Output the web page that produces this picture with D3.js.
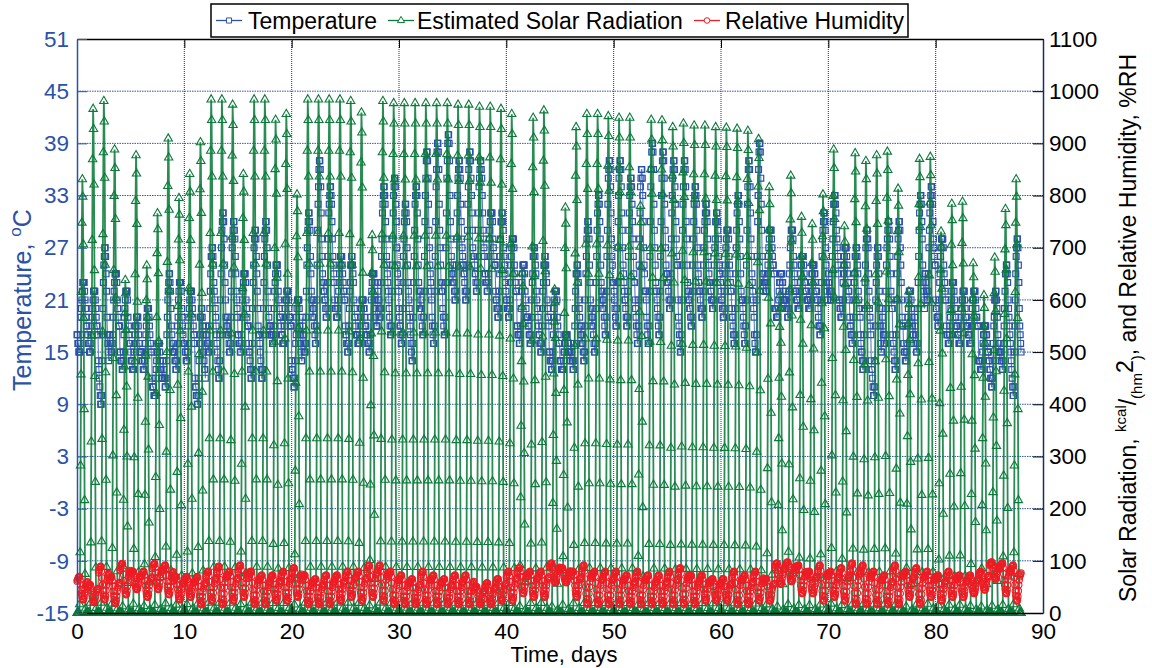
<!DOCTYPE html>
<html><head><meta charset="utf-8">
<script src="https://cdn.jsdelivr.net/npm/d3@7"></script>
<style>
html,body{margin:0;padding:0;background:#fff;}
svg{display:block;font-family:"Liberation Sans",Arial,sans-serif;}
</style></head>
<body><svg id="c" width="1152" height="668"></svg>
<script>
// ---- data ----
const dayIndex = d3.range(88);
const xTicks = [0,10,20,30,40,50,60,70,80,90];
const leftTicks = [-15,-9,-3,3,9,15,21,27,33,39,45,51];
const rightTicks = [0,100,200,300,400,500,600,700,800,900,1000,1100];
const seriesNames = ["Temperature","Estimated Solar Radiation","Relative Humidity"];

// daily peak of estimated solar radiation, kcal/(hm2)
const solarPeak = [831,966,981,888,638,877,666,766,909,795,
  841,902,984,984,974,841,984,984,945,956,
  802,984,984,984,984,981,959,724,981,977,
  977,977,977,977,977,974,974,970,970,966,
  956,652,949,963,620,777,931,956,956,952,
  949,949,780,945,944,931,938,934,934,931,
  930,928,924,908,816,609,838,759,745,802,
  888,741,881,866,877,884,813,616,870,874,
  731,784,788,670,609,681,774,831];
// daily max / min temperature, degC
const tempMax = [23,22,27,24,22,19,20,16,24,23,
  22,20,27,31,30,24,29,30,25,22,
  21,31,37,34,26,26,21,24,34,35,
  32,34,38,39,40,37,38,37,31,31,
  28,25,27,26,22,17,25,30,33,37,
  37,35,36,39,38,37,37,34,32,31,
  29,33,37,39,29,24,29,26,25,31,
  33,27,27,29,27,30,30,22,33,34,
  28,23,22,22,18,22,25,28];
const tempMin = [15,15,9,15,13,13,13,10,11,13,
  14,9,15,12,15,15,12,12,16,16,
  11,15,16,19,19,15,16,15,19,17,
  16,14,17,16,17,21,21,22,22,19,
  19,16,16,15,13,13,13,14,15,17,
  18,18,16,16,17,20,15,18,19,20,
  19,16,16,15,22,19,19,20,20,17,
  21,19,16,13,10,16,13,14,15,21,
  18,16,16,16,13,11,13,10];
// daily max / min relative humidity, %RH
const rhMax = [70,55,90,70,95,80,80,95,92,70,
  70,70,80,90,80,92,80,73,73,80,
  87,73,66,73,73,80,80,92,92,80,
  73,66,80,73,66,73,73,51,58,66,
  80,87,80,80,96,87,80,92,80,80,
  80,73,80,73,73,80,87,73,73,66,
  66,80,73,80,66,96,98,92,80,92,
  80,87,96,92,80,73,92,80,87,80,
  73,80,73,73,80,98,96,92];
const rhMin = [25,20,25,18,35,45,30,45,35,25,
  30,16,23,16,23,30,16,16,23,23,
  30,16,16,16,23,30,23,30,23,16,
  16,16,16,16,16,16,16,16,16,23,
  23,37,30,30,58,58,30,16,16,16,
  16,16,16,16,16,16,16,16,23,23,
  23,16,16,23,23,55,60,37,37,23,
  30,23,16,16,16,16,16,30,16,30,
  23,30,30,37,44,65,37,23];
// typical hourly shape of a day (fraction of the daily range), hours 0..23
const solarShape = [0,0,0,0,0,0,0.02,0.14,0.34,0.55,0.74,0.9,1,0.96,0.85,0.68,0.47,0.26,0.09,0.01,0,0,0,0];
const tempShape = [0.25,0.2,0.15,0.1,0.06,0.02,0,0.08,0.25,0.45,0.62,0.77,0.88,0.95,0.99,1,0.95,0.85,0.7,0.57,0.46,0.38,0.32,0.28];
const rhShape = [0.8,0.85,0.9,0.95,0.98,1,0.97,0.85,0.65,0.45,0.28,0.15,0.06,0.02,0,0.03,0.12,0.28,0.45,0.58,0.67,0.72,0.75,0.78];

// ---- build hourly records ----
const temp=[], solar=[], rh=[];
dayIndex.forEach(d=>{
  for(let h=0;h<24;h++){
    const t=d+h/24;
    temp.push({t, v:Math.round(tempMin[d]+(tempMax[d]-tempMin[d])*tempShape[h])});
    solar.push({t, v:solarPeak[d]*solarShape[h]});
    rh.push({t, v:rhMin[d]+(rhMax[d]-rhMin[d])*rhShape[h]});
  }
});

// ---- layout ----
const svg=d3.select("#c");
const L=77,R=1043,T=39,B=613;
const x=d3.scaleLinear([0,90],[L,R]);
const yL=d3.scaleLinear([-15,51],[B,T]);
const yR=d3.scaleLinear([0,1100],[B,T]);
const cT="#2a52a8", cS="#0a7a3b", cH="#ee1c25";
const FONT="Liberation Sans, Arial, sans-serif";

// grid
const g=svg.append("g");
g.selectAll(".hg").data(leftTicks.slice(1,-1)).join("line")
  .attr("x1",L).attr("x2",R).attr("y1",d=>yL(d)).attr("y2",d=>yL(d))
  .attr("stroke","#2f55a8").attr("stroke-width",1).attr("stroke-dasharray","1.5,1");
g.selectAll(".vg").data(xTicks.slice(1,-1)).join("line")
  .attr("x1",d=>x(d)).attr("x2",d=>x(d)).attr("y1",T).attr("y2",B)
  .attr("stroke","#333").attr("stroke-width",1).attr("stroke-dasharray","1,1");

// series
const lineT=d3.line().x(d=>x(d.t)).y(d=>yL(d.v));
const lineR=d3.line().x(d=>x(d.t)).y(d=>yR(d.v));
const sq=d3.symbol(d3.symbolSquare,34)(), tri=d3.symbol(d3.symbolTriangle,30)();

svg.append("path").datum(temp).attr("d",lineT).attr("fill","none").attr("stroke","#5a7cc2").attr("stroke-width",1.1);
svg.append("g").selectAll("path").data(temp).join("path").attr("d",sq)
  .attr("transform",d=>`translate(${x(d.t)},${yL(d.v)})`)
  .attr("fill","none").attr("stroke",cT).attr("stroke-width",1.2);

svg.append("path").datum(solar).attr("d",lineR).attr("fill","none").attr("stroke","#117f40").attr("stroke-opacity",0.9).attr("stroke-width",1.8);
svg.append("g").selectAll("path").data(solar).join("path").attr("d",tri)
  .attr("transform",d=>`translate(${x(d.t)},${yR(d.v)})`)
  .attr("fill","none").attr("stroke",cS).attr("stroke-width",1.1);

svg.append("path").datum(rh).attr("d",lineR).attr("fill","none").attr("stroke",cH).attr("stroke-width",1.1);
svg.append("g").selectAll("circle").data(rh).join("circle")
  .attr("cx",d=>x(d.t)).attr("cy",d=>yR(d.v)).attr("r",3.1)
  .attr("fill","none").attr("stroke",cH).attr("stroke-width",1.1);

// axes
const fs="22.5px";
const fmt=d=>String(d);
const ax=svg.append("g").attr("transform",`translate(0,${B})`)
  .call(d3.axisBottom(x).tickValues(xTicks).tickFormat(fmt).tickSize(-9).tickPadding(10).tickSizeOuter(0));
ax.select(".domain").attr("stroke","#000").attr("stroke-width",1.5);
ax.selectAll("text").attr("font-size",fs).attr("fill","#000").attr("font-family",FONT);
const axT=svg.append("g").attr("transform",`translate(0,${T})`)
  .call(d3.axisTop(x).tickValues(xTicks).tickSize(-9).tickFormat("").tickSizeOuter(0));
axT.select(".domain").attr("stroke","#000").attr("stroke-width",1.5);

const ayl=svg.append("g").attr("transform",`translate(${L},0)`)
  .call(d3.axisLeft(yL).tickValues(leftTicks).tickFormat(fmt).tickSize(-10).tickPadding(8).tickSizeOuter(0));
ayl.select(".domain").attr("stroke",cT).attr("stroke-width",1.5);
ayl.selectAll("line").attr("stroke",cT);
ayl.selectAll("text").attr("font-size",fs).attr("fill",cT).attr("font-family",FONT);

const ayr=svg.append("g").attr("transform",`translate(${R},0)`)
  .call(d3.axisRight(yR).tickValues(rightTicks).tickFormat(fmt).tickSize(-10).tickPadding(6).tickSizeOuter(0));
ayr.select(".domain").attr("stroke","#1c2d5e").attr("stroke-width",1.5);
ayr.selectAll("line").attr("stroke","#000");
ayr.selectAll("text").attr("font-size",fs).attr("fill","#000").attr("font-family",FONT);

// axis titles
svg.append("text").attr("x",564).attr("y",662).attr("text-anchor","middle")
  .attr("font-size","22px").attr("fill","#000").text("Time, days");
const lt=svg.append("text").attr("transform","translate(31,300) rotate(-90)").attr("text-anchor","middle")
  .attr("font-size","25px").attr("fill",cT);
lt.append("tspan").text("Temperature, ");
lt.append("tspan").attr("font-size","17px").attr("dy",-10).text("o");
lt.append("tspan").attr("dy",10).text("C");
const rt=svg.append("text").attr("transform","translate(1136,328) rotate(-90)").attr("text-anchor","middle")
  .attr("font-size","23px").attr("fill","#000");
rt.append("tspan").text("Solar Radiation, ");
rt.append("tspan").attr("font-size","15px").attr("dy",-10).text("kcal");
rt.append("tspan").attr("dy",10).text("/");
rt.append("tspan").attr("font-size","15px").attr("dy",6).text("(hm");
rt.append("tspan").attr("dy",-9).text("2");
rt.append("tspan").attr("font-size","15px").attr("dy",9).text(")");
rt.append("tspan").attr("dy",-6).text(", and Relative Humidity, %RH");

// legend
const lg=svg.append("g");
lg.append("rect").attr("x",211).attr("y",4).attr("width",697).attr("height",33)
  .attr("fill","#fff").attr("stroke","#000").attr("stroke-width",1.5);
const items=[
  {n:seriesNames[0],c:cT,x0:216,tx:248,m:"sq"},
  {n:seriesNames[1],c:cS,x0:388,tx:417,m:"tri"},
  {n:seriesNames[2],c:cH,x0:694,tx:725,m:"c"}];
items.forEach(it=>{
  lg.append("line").attr("x1",it.x0).attr("x2",it.x0+26).attr("y1",20.5).attr("y2",20.5)
    .attr("stroke",it.c).attr("stroke-width",1.3);
  const cx=it.x0+13;
  if(it.m==="c") lg.append("circle").attr("cx",cx).attr("cy",20.5).attr("r",2.8).attr("fill","#fff").attr("stroke",it.c);
  else lg.append("path").attr("d",it.m==="sq"?d3.symbol(d3.symbolSquare,26)():d3.symbol(d3.symbolTriangle,22)())
    .attr("transform",`translate(${cx},20.5)`).attr("fill","#fff").attr("stroke",it.c);
  lg.append("text").attr("x",it.tx).attr("y",28.5).attr("font-size","23px").attr("fill","#000").text(it.n);
});
</script></body></html>
